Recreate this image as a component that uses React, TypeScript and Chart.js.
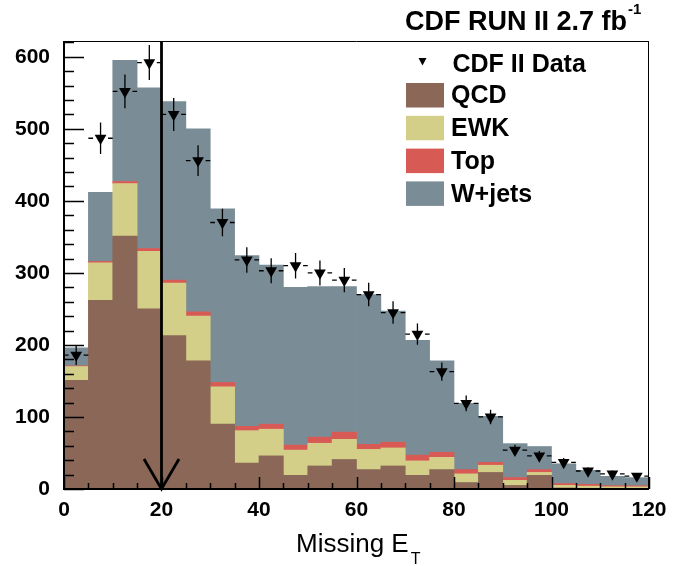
import React, { useEffect, useRef } from 'react';
import { Chart, registerables } from 'chart.js';

Chart.register(...registerables);

// ---- data ----
const binCenters = [2.5, 7.5, 12.5, 17.5, 22.5, 27.5, 32.5, 37.5, 42.5, 47.5, 52.5, 57.5, 62.5, 67.5, 72.5, 77.5, 82.5, 87.5, 92.5, 97.5, 102.5, 107.5, 112.5, 117.5];
const binHalfWidth = 2.5;
const qcd = [151, 262, 351, 250, 213, 178, 90, 36, 46, 19, 32, 41, 27, 32, 19, 27, 9, 23, 5, 19, 1.5, 1, 1, 1];
const ewk = [19, 52, 73, 80, 73, 62, 52, 45, 37, 35, 31.5, 28, 28, 25, 20, 17, 12, 10, 7, 4, 3.5, 3, 2, 2];
const topq = [1, 2, 3, 4, 4, 6, 6, 6, 7, 7, 8.5, 10, 7, 8, 8, 7, 6, 4, 4, 4, 2.5, 2.5, 1.7, 1.5];
const wjets = [25, 96, 168, 223, 248, 254, 241, 237, 221, 219, 209, 202, 208, 182, 159.5, 127, 92, 64, 47, 32, 27.5, 19.5, 12.9, 11.3];
const dataValues = [186, 487, 552, 592, 520, 456, 370, 318, 303, 310, 300, 290, 270, 245, 215, 163, 119, 100, 54, 46, 37, 25, 21, 18];
const dataErrors = [14, 22, 23.5, 24.3, 22.8, 21.4, 19.2, 17.8, 17.4, 17.6, 17.3, 17, 16.4, 15.7, 14.7, 12.8, 10.9, 10, 7.3, 6.8, 6.1, 5, 4.6, 4.2];

const seriesLabels = ['CDF II Data', 'QCD', 'EWK', 'Top', 'W+jets'];
const seriesColors = ['#000000', '#8a6757', '#d4cf88', '#d75a55', '#7a8d97'];

const xTickLabels = [0, 20, 40, 60, 80, 100, 120];
const yTickLabels = [0, 100, 200, 300, 400, 500, 600];
const xMinorStep = 5;
const yMinorStep = 20;
const xMin = 0, xMax = 120, yMin = 0, yMax = 622;
const cutValue = 20;

const titleText = 'CDF RUN II 2.7 fb';
const titleSup = '-1';
const xTitleMain = 'Missing E';
const xTitleSub = 'T';

const FONT = '"Liberation Sans", Arial, Helvetica, sans-serif';

const framePlugin = {
  id: 'framePlugin',
  afterDatasetsDraw(chart: any) {
    const { ctx, chartArea, scales } = chart;
    const xs = scales.x, ys = scales.y;
    const { left, right, top, bottom } = chartArea;
    ctx.save();
    // error bars
    ctx.strokeStyle = '#000';
    ctx.lineWidth = 1.3;
    dataValues.forEach((v, i) => {
      const cx = xs.getPixelForValue(binCenters[i]);
      const cy = ys.getPixelForValue(v);
      const yt = ys.getPixelForValue(v + dataErrors[i]);
      const yb = ys.getPixelForValue(v - dataErrors[i]);
      const xl = xs.getPixelForValue(binCenters[i] - binHalfWidth);
      const xr = xs.getPixelForValue(binCenters[i] + binHalfWidth);
      const gap = 7.5;
      ctx.beginPath();
      ctx.moveTo(cx, yt); ctx.lineTo(cx, yb);
      ctx.moveTo(xl, cy); ctx.lineTo(cx - gap, cy);
      ctx.moveTo(cx + gap, cy); ctx.lineTo(xr, cy);
      ctx.stroke();
    });
    // frame
    ctx.strokeStyle = '#000';
    ctx.lineWidth = 1;
    ctx.beginPath();
    ctx.moveTo(left, top + 0.5); ctx.lineTo(right, top + 0.5);
    ctx.moveTo(right - 0.5, top); ctx.lineTo(right - 0.5, bottom);
    ctx.stroke();
    ctx.lineWidth = 2;
    ctx.beginPath();
    ctx.moveTo(left, top); ctx.lineTo(left, bottom + 1);
    ctx.moveTo(left - 1, bottom); ctx.lineTo(right, bottom);
    ctx.stroke();
    // y ticks (inward)
    ctx.lineWidth = 1.5;
    ctx.beginPath();
    for (let v = yMin; v <= yMax; v += yMinorStep) {
      const py = Math.round(ys.getPixelForValue(v)) + 0.5;
      const len = v % 100 === 0 ? 20 : 10;
      ctx.moveTo(left, py); ctx.lineTo(left + len, py);
    }
    ctx.stroke();
    // x ticks (inward)
    ctx.beginPath();
    for (let v = xMin; v <= xMax; v += xMinorStep) {
      const px = Math.round(xs.getPixelForValue(v)) + 0.5;
      const len = v % 20 === 0 ? 12 : 6;
      ctx.moveTo(px, bottom); ctx.lineTo(px, bottom - len);
    }
    ctx.stroke();
    // cut line with arrow
    const cxp = xs.getPixelForValue(cutValue);
    ctx.lineWidth = 2.8;
    ctx.beginPath();
    ctx.moveTo(cxp, top); ctx.lineTo(cxp, bottom);
    ctx.stroke();
    ctx.beginPath();
    ctx.moveTo(cxp - 17.5, bottom - 30); ctx.lineTo(cxp, bottom);
    ctx.lineTo(cxp + 17.5, bottom - 30);
    ctx.stroke();
    ctx.restore();
  },
  afterDraw(chart: any) {
    const { ctx } = chart;
    ctx.save();
    ctx.fillStyle = '#000';
    ctx.textBaseline = 'alphabetic';
    ctx.textAlign = 'left';
    // title
    ctx.font = `bold 27px ${FONT}`;
    ctx.fillText(titleText, 405, 30);
    const tw = ctx.measureText(titleText).width;
    ctx.font = `bold 15px ${FONT}`;
    ctx.fillText(titleSup, 405 + tw + 1, 14);
    // legend
    ctx.beginPath();
    ctx.moveTo(418.5, 58); ctx.lineTo(426.5, 58); ctx.lineTo(422.5, 65.5); ctx.closePath();
    ctx.fill();
    ctx.font = `bold 25px ${FONT}`;
    ctx.fillText(seriesLabels[0], 452.5, 71.5);
    for (let i = 1; i < seriesLabels.length; i++) {
      const ty = 83 + (i - 1) * 32.8;
      ctx.fillStyle = seriesColors[i];
      ctx.fillRect(406, ty, 38, 24.5);
      ctx.fillStyle = '#000';
      ctx.fillText(seriesLabels[i], 451, ty + 20.3);
    }
    // x title
    ctx.font = `26px ${FONT}`;
    ctx.fillText(xTitleMain, 296, 552);
    const xw = ctx.measureText(xTitleMain).width;
    ctx.font = `16px ${FONT}`;
    ctx.fillText(xTitleSub, 296 + xw + 2, 564);
    ctx.restore();
  },
};

function App() {
  const ref = useRef<HTMLCanvasElement>(null);
  useEffect(() => {
    document.body.style.margin = '0';
    const pts = (arr: number[]) => arr.map((v, i) => ({ x: binCenters[i], y: v }));
    const barBase = { type: 'bar' as const, barPercentage: 1, categoryPercentage: 1, borderWidth: 0, grouped: false };
    const chart = new Chart(ref.current as HTMLCanvasElement, {
      type: 'bar',
      data: {
        datasets: [
          {
            type: 'scatter' as any,
            label: seriesLabels[0],
            data: pts(dataValues),
            pointStyle: 'triangle',
            rotation: 180,
            radius: 6.8,
            backgroundColor: '#000',
            borderWidth: 0,
            showLine: false,
          } as any,
          { ...barBase, label: seriesLabels[1], data: pts(qcd), backgroundColor: seriesColors[1] } as any,
          { ...barBase, label: seriesLabels[2], data: pts(ewk), backgroundColor: seriesColors[2] } as any,
          { ...barBase, label: seriesLabels[3], data: pts(topq), backgroundColor: seriesColors[3] } as any,
          { ...barBase, label: seriesLabels[4], data: pts(wjets), backgroundColor: seriesColors[4] } as any,
        ],
      },
      options: {
        responsive: false,
        animation: false,
        devicePixelRatio: 1,
        layout: { padding: { left: 0, right: 40, top: 41, bottom: 0 } },
        plugins: { legend: { display: false }, tooltip: { enabled: false }, title: { display: false } },
        scales: {
          x: {
            type: 'linear',
            min: xMin,
            max: xMax,
            stacked: true,
            offset: false,
            grid: { display: false, drawTicks: false, offset: false },
            border: { display: false },
            afterBuildTicks: (s: any) => { s.ticks = xTickLabels.map((v) => ({ value: v })); },
            afterFit: (s: any) => { s.height = 77; },
            ticks: {
              autoSkip: false,
              maxRotation: 0,
              padding: 9,
              color: '#000',
              font: { family: FONT, size: 21, weight: 'bold' },
              callback: (v: any) => String(v),
            },
          },
          y: {
            type: 'linear',
            min: yMin,
            max: yMax,
            stacked: true,
            grid: { display: false, drawTicks: false },
            border: { display: false },
            afterBuildTicks: (s: any) => { s.ticks = yTickLabels.map((v) => ({ value: v })); },
            afterFit: (s: any) => { s.width = 64; },
            ticks: {
              autoSkip: false,
              padding: 14,
              color: '#000',
              font: { family: FONT, size: 21, weight: 'bold' },
              callback: (v: any) => String(v),
            },
          },
        },
      } as any,
      plugins: [framePlugin],
    });
    return () => chart.destroy();
  }, []);
  return (
    <div style={{ position: 'absolute', left: 0, top: 0, width: 689, height: 566, background: '#fff' }}>
      <canvas ref={ref} width={689} height={566} style={{ width: 689, height: 566, display: 'block' }} />
    </div>
  );
}

export default App;
